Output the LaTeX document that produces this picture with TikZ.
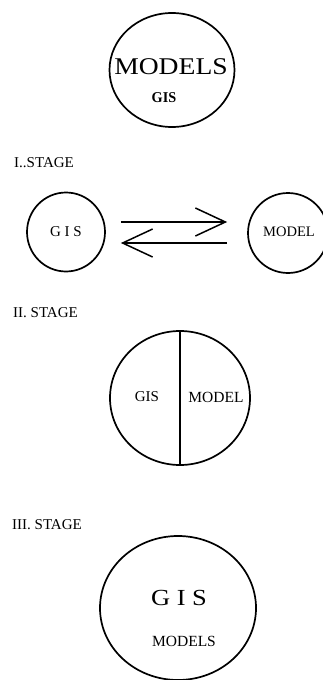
\documentclass[tikz,border=0pt]{standalone}
\usepackage{fontspec}
\setmainfont{Liberation Serif}
\usetikzlibrary{shapes.geometric, arrows.meta}
\tikzstyle{ring} = [
  ellipse,
  draw=black,
  line width=1.7pt,
  inner sep=0pt
]
\tikzstyle{stage} = [
  anchor=west,
  inner sep=0pt,
  font=\fontsize{15}{15}\selectfont
]
\tikzstyle{word} = [
  inner sep=0pt,
  font=\fontsize{15}{15}\selectfont
]
\tikzstyle{arrow} = [
  line width=1.5pt,
  -{Straight Barb[length=30pt,width=28pt,line width=1.5pt]},
  black,
]

\begin{document}
\begin{tikzpicture}[x=1pt, y=-1pt]
    \useasboundingbox (0,0) rectangle (322,680);

    % before: models hold a small GIS
    \node[ring, minimum width=125pt, minimum height=114pt] (M) at (172,70) {};
    \node[word, font=\fontsize{24}{24}\selectfont, xscale=1.15] (Mt) at (171,67) {MODELS};
    \node[word, font=\fontsize{15}{15}\selectfont\bfseries, xscale=0.95] (Mg) at (164,98) {GIS};

    % stage I
    \node[stage] (S1) at (14,163) {I..STAGE};
    \node[ring, minimum width=78pt, minimum height=79pt] (gis) at (66,232) {};
    \node[ring, minimum width=80pt, minimum height=80pt] (model) at (288,233) {};
    \node[word] at (gis) {G I S};
    \node[word, font=\fontsize{14.5}{15}\selectfont] at (289,232) {MODEL};
    \draw[arrow, shorten <=15pt, shorten >=20pt] ([yshift=10pt]gis.east) -- ([yshift=11pt]model.west);
    \draw[arrow, shorten <=20pt, shorten >=15pt] ([yshift=-10pt]model.west) -- ([yshift=-11pt]gis.east);

    % stage II
    \node[stage] (S2) at (13,313) {II. STAGE};
    \node[ring, minimum width=140pt, minimum height=134pt] (split) at (180,398) {};
    \draw[line width=1.7pt] (split.north) -- (split.south);
    \node[word] at (147,397) {GIS};
    \node[word, font=\fontsize{15.5}{15}\selectfont] at (216,397) {MODEL};

    % stage III
    \node[stage] (S3) at (12,525) {III. STAGE};
    \node[ring, minimum width=156pt, minimum height=144pt] (whole) at (178,608) {};
    \node[word, font=\fontsize{23}{23}\selectfont, xscale=1.15] at (179,598) {G I S};
    \node[word, font=\fontsize{15.5}{15}\selectfont] at (184,641) {MODELS};
\end{tikzpicture}
\end{document}
